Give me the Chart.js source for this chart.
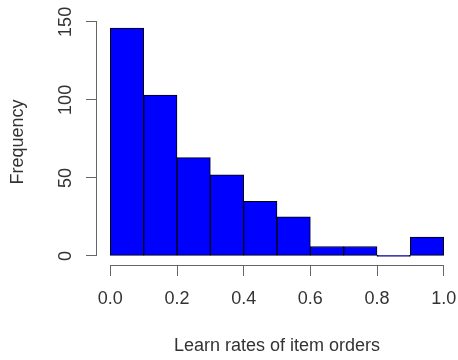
<!DOCTYPE html>
<html>
<head>
<meta charset="utf-8">
<script src="https://cdn.jsdelivr.net/npm/chart.js@4.4.0/dist/chart.umd.min.js"></script>
<style>
  html, body { margin: 0; padding: 0; background: #fff; }
  #wrap { width: 458px; height: 360px; }
</style>
</head>
<body>
<div id="wrap"><canvas id="hist" width="458" height="360"></canvas></div>
<script>
// histogram bins (midpoints of 0.1 wide bins) and counts
const binMids = [0.05, 0.15, 0.25, 0.35, 0.45, 0.55, 0.65, 0.75, 0.85, 0.95];
const frequencies = [146, 103, 63, 52, 35, 25, 6, 6, 0, 12];
const xTicks = [0, 0.2, 0.4, 0.6, 0.8, 1.0];
const yTicks = [0, 50, 100, 150];
const xTitle = 'Learn rates of item orders';
const yTitle = 'Frequency';

const font = { family: "'Liberation Sans', Arial, sans-serif", size: 18 };
const axisGrey = '#666';
const textColor = '#333';

// R style usr range: 4% past the data on every side
const xMin = -0.04, xMax = 1.04;
const yTop = Math.max(...frequencies);
const yMin = -0.04 * yTop, yMax = yTop * 1.04;

// R draws axis lines only from first to last tick
const rAxes = {
  id: 'rAxes',
  afterDraw(chart) {
    const { ctx, chartArea } = chart;
    const x = chart.scales.x, y = chart.scales.y;
    ctx.save();
    ctx.strokeStyle = axisGrey;
    ctx.lineWidth = 1;
    ctx.beginPath();
    ctx.moveTo(x.getPixelForValue(xTicks[0]), chartArea.bottom + 0.5);
    ctx.lineTo(x.getPixelForValue(xTicks[xTicks.length - 1]), chartArea.bottom + 0.5);
    ctx.moveTo(chartArea.left - 0.5, y.getPixelForValue(yTicks[0]));
    ctx.lineTo(chartArea.left - 0.5, y.getPixelForValue(yTicks[yTicks.length - 1]));
    ctx.stroke();
    ctx.restore();
  }
};

new Chart(document.getElementById('hist'), {
  type: 'bar',
  data: {
    datasets: [{
      data: binMids.map((m, i) => ({ x: m, y: frequencies[i] })),
      backgroundColor: '#0000ff',
      borderColor: '#000',
      borderWidth: 1,
      borderSkipped: false,
      minBarLength: 1,
      barPercentage: 1,
      categoryPercentage: 1
    }]
  },
  options: {
    responsive: false,
    animation: false,
    layout: { padding: { top: 19, right: 1, left: 0, bottom: 0 } },
    plugins: { legend: { display: false }, tooltip: { enabled: false } },
    scales: {
      x: {
        type: 'linear',
        offset: false,
        min: xMin,
        max: xMax,
        afterBuildTicks: s => { s.ticks = xTicks.map(v => ({ value: v })); },
        afterFit: s => { s.height = 95; s.paddingLeft = 0; s.paddingRight = 0; },
        border: { display: false },
        grid: { offset: false, drawOnChartArea: false, color: axisGrey, tickLength: 11 },
        ticks: {
          color: textColor, font, padding: 12, maxRotation: 0, autoSkip: false,
          callback: v => v.toFixed(1)
        },
        title: { display: true, text: xTitle, color: textColor, font, padding: { top: 0, bottom: 3 } }
      },
      y: {
        min: yMin,
        max: yMax,
        afterBuildTicks: s => { s.ticks = yTicks.map(v => ({ value: v })); },
        afterFit: s => { s.width = 97; s.paddingTop = 0; s.paddingBottom = 0; },
        border: { display: false },
        grid: { drawOnChartArea: false, color: axisGrey, tickLength: 11 },
        ticks: {
          color: textColor, font, padding: 5, minRotation: 90, maxRotation: 90,
          crossAlign: 'center', autoSkip: false,
          callback: v => String(v)
        },
        title: { display: true, text: yTitle, color: textColor, font, padding: { top: 7, bottom: 0 } }
      }
    }
  },
  plugins: [rAxes]
});
</script>
</body>
</html>
